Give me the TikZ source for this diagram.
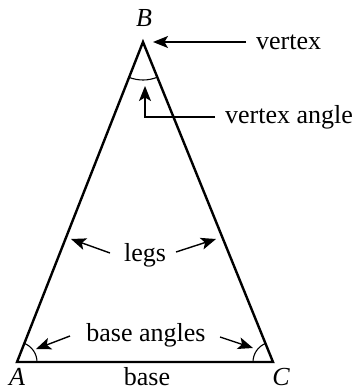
\documentclass[tikz,border=0pt]{standalone}
\usepackage{fontspec}
\setmainfont{Liberation Serif}
\usetikzlibrary{arrows.meta,angles}
\begin{document}
\begin{tikzpicture}[x=1pt,y=1pt,
  lbl/.style={inner sep=0pt,font=\fontsize{26}{30}\selectfont},
  vlbl/.style={lbl,font=\fontsize{26}{30}\selectfont\itshape},
  side/.style={line width=2.4pt,line join=miter},
  pointer/.style={line width=1.4pt,-{Stealth[length=15pt,width=12pt,inset=3.5pt]}},
  anglearc/.style={draw,line width=1.1pt}]
\useasboundingbox (0,0) rectangle (357,-390);
\coordinate (A) at (17,-362);
\coordinate (B) at (143,-42);
\coordinate (C) at (273,-362);
\draw[side] (A) -- (B) -- (C) -- cycle;
\pic[anglearc,angle radius=38pt] {angle=A--B--C};
\pic[anglearc,angle radius=20pt] {angle=C--A--B};
\pic[anglearc,angle radius=20pt] {angle=B--C--A};
\node[vlbl] (lB) at (144,-18) {B};
\node[vlbl] (lA) at (17,-377) {A};
\node[vlbl] (lC) at (281,-377) {C};
\node[lbl] (lbase) at (147,-377) {base};
\node[lbl,anchor=west] (lvertex) at (256,-42) {vertex};
\node[lbl,anchor=west] (lvangle) at (225,-117) {vertex angle};
\node[lbl] (llegs) at (145,-255) {legs};
\node[lbl] (lbangles) at (146,-335) {base angles};
\coordinate (v0) at (246,-42);
\coordinate (v1) at (153,-42);
\coordinate (a0) at (215,-117);
\coordinate (a1) at (145,-117);
\coordinate (a2) at (145,-86);
\coordinate (l0) at (110,-253);
\coordinate (l1) at (71,-239);
\coordinate (r0) at (176,-252);
\coordinate (r1) at (216,-239);
\coordinate (b0) at (70,-336);
\coordinate (b1) at (36,-349);
\coordinate (c0) at (220,-337);
\coordinate (c1) at (253,-348);
\draw[pointer] (v0) -- (v1);
\draw[pointer] (a0) -- (a1) -- (a2);
\draw[pointer] (l0) -- (l1);
\draw[pointer] (r0) -- (r1);
\draw[pointer] (b0) -- (b1);
\draw[pointer] (c0) -- (c1);
\end{tikzpicture}
\end{document}
